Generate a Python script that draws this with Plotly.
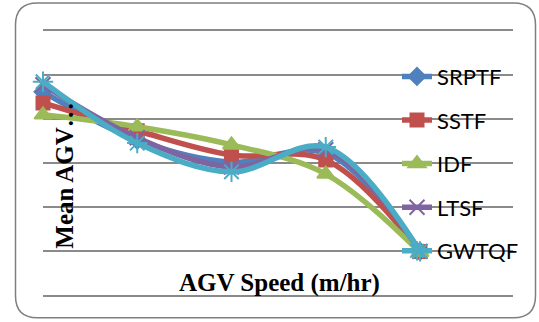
import plotly.graph_objects as go

# ---- data ----
categories = [0, 1, 2, 3, 4]          # AGV speed levels (no tick labels shown)
series_names = ["SRPTF", "SSTF", "IDF", "LTSF", "GWTQF"]
srptf = [46.1, 35.2, 30.2, 32.3, 10.0]
sstf = [43.6, 37.3, 31.8, 30.7, 10.0]
idf = [40.9, 38.2, 34.1, 27.5, 9.8]
ltsf = [47.7, 35.7, 29.1, 33.0, 10.0]
gwtqf = [48.4, 34.5, 28.0, 33.6, 10.0]

colors = ["#4F81BD", "#C0504D", "#9BBB59", "#8064A2", "#4BACC6"]
symbols = ["diamond", "square", "triangle-up", "x-thin-open", "asterisk-open"]
sizes = [13, 13, 15, 15, 17]
values = [srptf, sstf, idf, ltsf, gwtqf]

W, H = 539, 322
L, R, T, B = 43, 26, 26.4, 21.7
PW, PH = W - L - R, H - T - B


def fx(px):
    return (px - L) / PW


def fy(py):
    return (H - B - py) / PH


fig = go.Figure()
for i, (name, vals) in enumerate(zip(series_names, values)):
    fig.add_trace(go.Scatter(
        x=categories, y=vals, name=name, mode="lines+markers",
        line=dict(color=colors[i], width=5.5, shape="spline", smoothing=1),
        marker=dict(symbol=symbols[i], size=sizes[i], color=colors[i],
                    line=dict(color=colors[i], width=2)),
        legendgroup=name, cliponaxis=False,
    ))

# rounded chart border
x0, y0, x1, y1, rr = fx(15.5), fy(3.5), fx(535.5), fy(318), 22
rx, ry = rr / PW, rr / PH
path = (f"M{x0+rx},{y0} L{x1-rx},{y0} Q{x1},{y0} {x1},{y0-ry} "
        f"L{x1},{y1+ry} Q{x1},{y1} {x1-rx},{y1} L{x0+rx},{y1} "
        f"Q{x0},{y1} {x0},{y1+ry} L{x0},{y0-ry} Q{x0},{y0} {x0+rx},{y0} Z")
fig.add_shape(type="path", path=path, xref="paper", yref="paper",
              line=dict(color="#7F7F7F", width=1.5), layer="below")

fig.add_annotation(text="<b>AGV Speed (m/hr)</b>", xref="paper", yref="paper",
                   x=fx(279), y=fy(283), xanchor="center", yanchor="middle",
                   showarrow=False,
                   font=dict(family="Liberation Serif", size=25, color="black"))
fig.add_annotation(text="<b>Mean AGV…</b>", xref="paper", yref="paper",
                   x=fx(65), y=fy(176), xanchor="center", yanchor="middle",
                   textangle=-90, showarrow=False,
                   font=dict(family="Liberation Serif", size=25, color="black"))

fig.update_layout(
    width=W, height=H,
    margin=dict(l=L, r=R, t=T, b=B),
    paper_bgcolor="white", plot_bgcolor="white",
    showlegend=True,
    legend=dict(x=fx(397), y=fy(56), xanchor="left", yanchor="top",
                bgcolor="rgba(0,0,0,0)", tracegroupgap=12,
                font=dict(family="Lato", size=22, color="black"),
                itemwidth=30),
    xaxis=dict(range=[0, 4.987], showgrid=False, showticklabels=False,
               zeroline=False, showline=False, ticks=""),
    yaxis=dict(range=[-1, 61], dtick=10, tick0=0, showgrid=True,
               gridcolor="#8A8A8A", gridwidth=1.5, showticklabels=False,
               zeroline=False, showline=False, ticks=""),
)

fig.write_html("out.html")
